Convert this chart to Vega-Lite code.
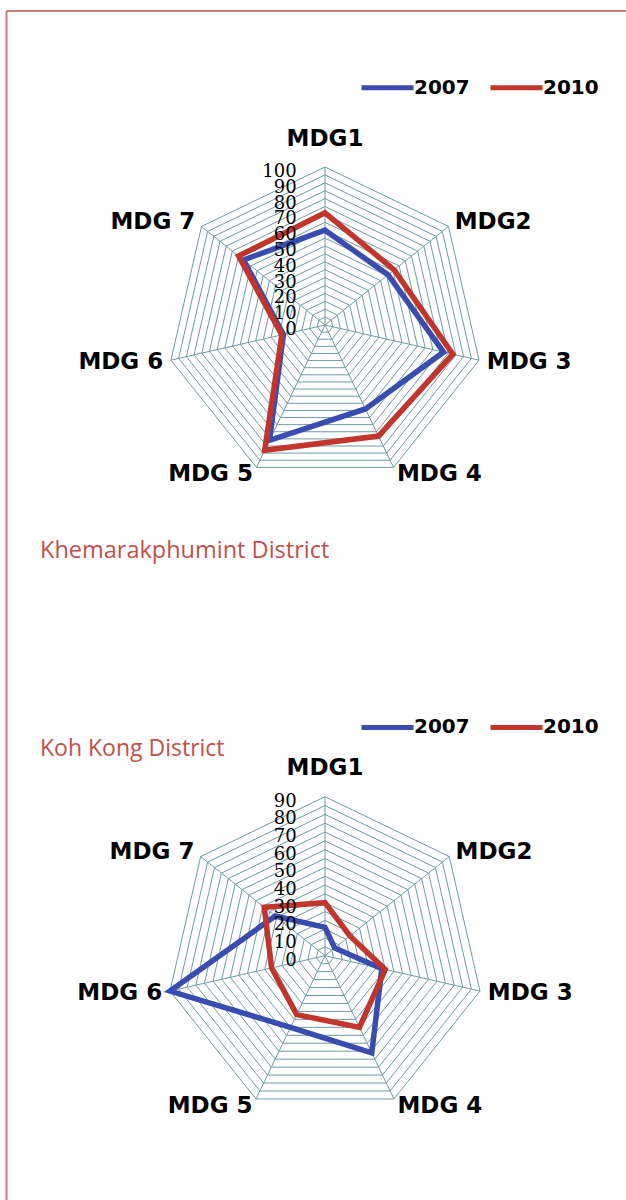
{
  "$schema": "https://vega.github.io/schema/vega-lite/v6.json",
  "autosize": {"type": "pad"},
  "padding": 0,
  "background": "white",
  "spacing": 0,
  "bounds": "flush",
  "config": {"view": {"stroke": null}},
  "resolve": {"scale": {"color": "independent"}, "legend": {"color": "independent"}},
  "datasets": {
    "axes": [
      {"mdg": "MDG1", "label": "MDG1"},
      {"mdg": "MDG2", "label": "MDG2"},
      {"mdg": "MDG3", "label": "MDG 3"},
      {"mdg": "MDG4", "label": "MDG 4"},
      {"mdg": "MDG5", "label": "MDG 5"},
      {"mdg": "MDG6", "label": "MDG 6"},
      {"mdg": "MDG7", "label": "MDG 7"}
    ],
    "khemarak": [
      {"mdg": "MDG1", "year": "2007", "value": 60},
      {"mdg": "MDG2", "year": "2007", "value": 51},
      {"mdg": "MDG3", "year": "2007", "value": 77},
      {"mdg": "MDG4", "year": "2007", "value": 59},
      {"mdg": "MDG5", "year": "2007", "value": 81},
      {"mdg": "MDG6", "year": "2007", "value": 27},
      {"mdg": "MDG7", "year": "2007", "value": 66},
      {"mdg": "MDG1", "year": "2010", "value": 71},
      {"mdg": "MDG2", "year": "2010", "value": 56},
      {"mdg": "MDG3", "year": "2010", "value": 83},
      {"mdg": "MDG4", "year": "2010", "value": 78},
      {"mdg": "MDG5", "year": "2010", "value": 88},
      {"mdg": "MDG6", "year": "2010", "value": 28},
      {"mdg": "MDG7", "year": "2010", "value": 70}
    ],
    "kohkong": [
      {"mdg": "MDG1", "year": "2007", "value": 16},
      {"mdg": "MDG2", "year": "2007", "value": 7},
      {"mdg": "MDG3", "year": "2007", "value": 33},
      {"mdg": "MDG4", "year": "2007", "value": 61},
      {"mdg": "MDG5", "year": "2007", "value": 45},
      {"mdg": "MDG6", "year": "2007", "value": 90},
      {"mdg": "MDG7", "year": "2007", "value": 36},
      {"mdg": "MDG1", "year": "2010", "value": 30},
      {"mdg": "MDG2", "year": "2010", "value": 18},
      {"mdg": "MDG3", "year": "2010", "value": 35},
      {"mdg": "MDG4", "year": "2010", "value": 45},
      {"mdg": "MDG5", "year": "2010", "value": 37},
      {"mdg": "MDG6", "year": "2010", "value": 31},
      {"mdg": "MDG7", "year": "2010", "value": 44}
    ],
    "gridTop": [
      {"level": 5, "k": [0,1,2,3,4,5,6]}, {"level": 10, "k": [0,1,2,3,4,5,6]},
      {"level": 15, "k": [0,1,2,3,4,5,6]}, {"level": 20, "k": [0,1,2,3,4,5,6]},
      {"level": 25, "k": [0,1,2,3,4,5,6]}, {"level": 30, "k": [0,1,2,3,4,5,6]},
      {"level": 35, "k": [0,1,2,3,4,5,6]}, {"level": 40, "k": [0,1,2,3,4,5,6]},
      {"level": 45, "k": [0,1,2,3,4,5,6]}, {"level": 50, "k": [0,1,2,3,4,5,6]},
      {"level": 55, "k": [0,1,2,3,4,5,6]}, {"level": 60, "k": [0,1,2,3,4,5,6]},
      {"level": 65, "k": [0,1,2,3,4,5,6]}, {"level": 70, "k": [0,1,2,3,4,5,6]},
      {"level": 75, "k": [0,1,2,3,4,5,6]}, {"level": 80, "k": [0,1,2,3,4,5,6]},
      {"level": 85, "k": [0,1,2,3,4,5,6]}, {"level": 90, "k": [0,1,2,3,4,5,6]},
      {"level": 95, "k": [0,1,2,3,4,5,6]}, {"level": 100, "k": [0,1,2,3,4,5,6]}
    ],
    "gridBottom": [
      {"level": 5, "k": [0,1,2,3,4,5,6]}, {"level": 10, "k": [0,1,2,3,4,5,6]},
      {"level": 15, "k": [0,1,2,3,4,5,6]}, {"level": 20, "k": [0,1,2,3,4,5,6]},
      {"level": 25, "k": [0,1,2,3,4,5,6]}, {"level": 30, "k": [0,1,2,3,4,5,6]},
      {"level": 35, "k": [0,1,2,3,4,5,6]}, {"level": 40, "k": [0,1,2,3,4,5,6]},
      {"level": 45, "k": [0,1,2,3,4,5,6]}, {"level": 50, "k": [0,1,2,3,4,5,6]},
      {"level": 55, "k": [0,1,2,3,4,5,6]}, {"level": 60, "k": [0,1,2,3,4,5,6]},
      {"level": 65, "k": [0,1,2,3,4,5,6]}, {"level": 70, "k": [0,1,2,3,4,5,6]},
      {"level": 75, "k": [0,1,2,3,4,5,6]}, {"level": 80, "k": [0,1,2,3,4,5,6]},
      {"level": 85, "k": [0,1,2,3,4,5,6]}, {"level": 90, "k": [0,1,2,3,4,5,6]}
    ],
    "ticksTop": [
      {"tick": 0}, {"tick": 10}, {"tick": 20}, {"tick": 30}, {"tick": 40}, {"tick": 50},
      {"tick": 60}, {"tick": 70}, {"tick": 80}, {"tick": 90}, {"tick": 100}
    ],
    "ticksBottom": [
      {"tick": 0}, {"tick": 10}, {"tick": 20}, {"tick": 30}, {"tick": 40}, {"tick": 50},
      {"tick": 60}, {"tick": 70}, {"tick": 80}, {"tick": 90}
    ]
  },
  "vconcat": [
    {
      "width": 626,
      "height": 600,
      "layer": [
        {
          "data": {"name": "gridTop"},
          "transform": [
            {"flatten": ["k"]},
            {"calculate": "datum.level/100*sin(2*PI*datum.k/7)", "as": "x"},
            {"calculate": "datum.level/100*cos(2*PI*datum.k/7)", "as": "y"}
          ],
          "mark": {"type": "line", "interpolate": "linear-closed", "color": "#6f9ba7", "strokeWidth": 1},
          "encoding": {
            "x": {"field": "x", "type": "quantitative", "scale": {"domain": [-2.056962, 1.905063], "nice": false, "zero": false}, "axis": null},
            "y": {"field": "y", "type": "quantitative", "scale": {"domain": [-1.740506, 2.056962], "nice": false, "zero": false}, "axis": null},
            "detail": {"field": "level", "type": "nominal"},
            "order": {"field": "k", "type": "quantitative"}
          }
        },
        {
          "data": {"values": [{"edge": "top"}]},
          "mark": {"type": "rule", "color": "#c47f78", "strokeWidth": 2},
          "encoding": {"x": {"datum": -2.015823}, "x2": {"datum": 1.905063}, "y": {"datum": 1.987342}}
        },
        {
          "data": {"values": [{"edge": "left"}]},
          "mark": {"type": "rule", "color": "#c47f78", "strokeWidth": 2},
          "encoding": {"x": {"datum": -2.015823}, "y": {"datum": 1.987342}, "y2": {"datum": -1.740506}}
        },
        {
          "data": {"name": "axes"},
          "transform": [
            {"calculate": "indexof(['MDG1','MDG2','MDG3','MDG4','MDG5','MDG6','MDG7'], datum.mdg)", "as": "k"},
            {"calculate": "sin(2*PI*datum.k/7)", "as": "x"},
            {"calculate": "cos(2*PI*datum.k/7)", "as": "y"}
          ],
          "mark": {"type": "rule", "color": "#6f9ba7", "strokeWidth": 1},
          "encoding": {
            "x": {"field": "x", "type": "quantitative"},
            "y": {"field": "y", "type": "quantitative"},
            "x2": {"datum": 0}, "y2": {"datum": 0}
          }
        },
        {
          "data": {"name": "khemarak"},
          "transform": [
            {"calculate": "indexof(['MDG1','MDG2','MDG3','MDG4','MDG5','MDG6','MDG7'], datum.mdg)", "as": "k"},
            {"calculate": "datum.value/100*sin(2*PI*datum.k/7)", "as": "x"},
            {"calculate": "datum.value/100*cos(2*PI*datum.k/7)", "as": "y"}
          ],
          "mark": {"type": "line", "interpolate": "linear-closed", "strokeWidth": 5.5},
          "encoding": {
            "x": {"field": "x", "type": "quantitative"},
            "y": {"field": "y", "type": "quantitative"},
            "order": {"field": "k", "type": "quantitative"},
            "color": {
              "field": "year", "type": "nominal",
              "scale": {"domain": ["2007", "2010"], "range": ["#3b4cb0", "#c1352d"]},
              "legend": {"orient": "none", "legendX": 359, "legendY": 59, "direction": "horizontal", "title": null, "symbolType": "stroke", "symbolSize": 2704, "symbolStrokeWidth": 5, "labelFont": "DejaVu Sans", "labelFontWeight": "bold", "labelFontSize": 20, "labelColor": "black", "labelOffset": -2, "columnPadding": 10, "padding": 0}
            }
          }
        },
        {
          "data": {"name": "axes"},
          "transform": [
            {"calculate": "indexof(['MDG1','MDG2','MDG3','MDG4','MDG5','MDG6','MDG7'], datum.mdg)", "as": "k"},
            {"filter": "datum.k == 0"},
            {"calculate": "1.18*sin(2*PI*datum.k/7)", "as": "x"},
            {"calculate": "1.18*cos(2*PI*datum.k/7)", "as": "y"}
          ],
          "mark": {"type": "text", "font": "DejaVu Sans", "fontWeight": "bold", "fontSize": 23, "color": "black", "baseline": "middle", "align": "center"},
          "encoding": {"x": {"field": "x", "type": "quantitative"}, "y": {"field": "y", "type": "quantitative"}, "text": {"field": "label", "type": "nominal"}}
        },
        {
          "data": {"name": "axes"},
          "transform": [
            {"calculate": "indexof(['MDG1','MDG2','MDG3','MDG4','MDG5','MDG6','MDG7'], datum.mdg)", "as": "k"},
            {"filter": "datum.k >= 1 && datum.k <= 3"},
            {"calculate": "1.05*sin(2*PI*datum.k/7)", "as": "x"},
            {"calculate": "1.05*cos(2*PI*datum.k/7)", "as": "y"}
          ],
          "mark": {"type": "text", "font": "DejaVu Sans", "fontWeight": "bold", "fontSize": 23, "color": "black", "baseline": "middle", "align": "left"},
          "encoding": {"x": {"field": "x", "type": "quantitative"}, "y": {"field": "y", "type": "quantitative"}, "text": {"field": "label", "type": "nominal"}}
        },
        {
          "data": {"name": "axes"},
          "transform": [
            {"calculate": "indexof(['MDG1','MDG2','MDG3','MDG4','MDG5','MDG6','MDG7'], datum.mdg)", "as": "k"},
            {"filter": "datum.k >= 4"},
            {"calculate": "1.05*sin(2*PI*datum.k/7)", "as": "x"},
            {"calculate": "1.05*cos(2*PI*datum.k/7)", "as": "y"}
          ],
          "mark": {"type": "text", "font": "DejaVu Sans", "fontWeight": "bold", "fontSize": 23, "color": "black", "baseline": "middle", "align": "right"},
          "encoding": {"x": {"field": "x", "type": "quantitative"}, "y": {"field": "y", "type": "quantitative"}, "text": {"field": "label", "type": "nominal"}}
        },
        {
          "data": {"name": "ticksTop"},
          "transform": [{"calculate": "datum.tick/100", "as": "y"}],
          "mark": {"type": "text", "font": "DejaVu Serif", "fontSize": 18, "color": "black", "align": "right", "baseline": "middle", "dy": 5},
          "encoding": {"x": {"datum": -0.179}, "y": {"field": "y", "type": "quantitative"}, "text": {"field": "tick", "type": "quantitative"}}
        },
        {
          "data": {"values": [{"name": "Khemarakphumint  District"}]},
          "mark": {"type": "text", "font": "Open Sans", "fontSize": 23.5, "color": "#c0504d", "align": "left", "baseline": "middle"},
          "encoding": {"x": {"datum": -1.8038}, "y": {"datum": -1.4304}, "text": {"field": "name", "type": "nominal"}}
        }
      ]
    },
    {
      "width": 626,
      "height": 600,
      "layer": [
        {
          "data": {"name": "gridBottom"},
          "transform": [
            {"flatten": ["k"]},
            {"calculate": "datum.level/90*sin(2*PI*datum.k/7)", "as": "x"},
            {"calculate": "datum.level/90*cos(2*PI*datum.k/7)", "as": "y"}
          ],
          "mark": {"type": "line", "interpolate": "linear-closed", "color": "#6f9ba7", "strokeWidth": 1},
          "encoding": {
            "x": {"field": "x", "type": "quantitative", "scale": {"domain": [-2.044025, 1.893082], "nice": false, "zero": false}, "axis": null},
            "y": {"field": "y", "type": "quantitative", "scale": {"domain": [-1.536478, 2.237107], "nice": false, "zero": false}, "axis": null},
            "detail": {"field": "level", "type": "nominal"},
            "order": {"field": "k", "type": "quantitative"}
          }
        },
        {
          "data": {"values": [{"edge": "left"}]},
          "mark": {"type": "rule", "color": "#c47f78", "strokeWidth": 2},
          "encoding": {"x": {"datum": -2.003145}, "y": {"datum": 2.237107}, "y2": {"datum": -1.536478}}
        },
        {
          "data": {"name": "axes"},
          "transform": [
            {"calculate": "indexof(['MDG1','MDG2','MDG3','MDG4','MDG5','MDG6','MDG7'], datum.mdg)", "as": "k"},
            {"calculate": "sin(2*PI*datum.k/7)", "as": "x"},
            {"calculate": "cos(2*PI*datum.k/7)", "as": "y"}
          ],
          "mark": {"type": "rule", "color": "#6f9ba7", "strokeWidth": 1},
          "encoding": {
            "x": {"field": "x", "type": "quantitative"},
            "y": {"field": "y", "type": "quantitative"},
            "x2": {"datum": 0}, "y2": {"datum": 0}
          }
        },
        {
          "data": {"name": "kohkong"},
          "transform": [
            {"calculate": "indexof(['MDG1','MDG2','MDG3','MDG4','MDG5','MDG6','MDG7'], datum.mdg)", "as": "k"},
            {"calculate": "datum.value/90*sin(2*PI*datum.k/7)", "as": "x"},
            {"calculate": "datum.value/90*cos(2*PI*datum.k/7)", "as": "y"}
          ],
          "mark": {"type": "line", "interpolate": "linear-closed", "strokeWidth": 5.5},
          "encoding": {
            "x": {"field": "x", "type": "quantitative"},
            "y": {"field": "y", "type": "quantitative"},
            "order": {"field": "k", "type": "quantitative"},
            "color": {
              "field": "year", "type": "nominal",
              "scale": {"domain": ["2007", "2010"], "range": ["#3b4cb0", "#c1352d"]},
              "legend": {"orient": "none", "legendX": 359, "legendY": 98.7, "direction": "horizontal", "title": null, "symbolType": "stroke", "symbolSize": 2704, "symbolStrokeWidth": 5, "labelFont": "DejaVu Sans", "labelFontWeight": "bold", "labelFontSize": 20, "labelColor": "black", "labelOffset": -2, "columnPadding": 10, "padding": 0}
            }
          }
        },
        {
          "data": {"name": "axes"},
          "transform": [
            {"calculate": "indexof(['MDG1','MDG2','MDG3','MDG4','MDG5','MDG6','MDG7'], datum.mdg)", "as": "k"},
            {"filter": "datum.k == 0"},
            {"calculate": "1.18*sin(2*PI*datum.k/7)", "as": "x"},
            {"calculate": "1.18*cos(2*PI*datum.k/7)", "as": "y"}
          ],
          "mark": {"type": "text", "font": "DejaVu Sans", "fontWeight": "bold", "fontSize": 23, "color": "black", "baseline": "middle", "align": "center"},
          "encoding": {"x": {"field": "x", "type": "quantitative"}, "y": {"field": "y", "type": "quantitative"}, "text": {"field": "label", "type": "nominal"}}
        },
        {
          "data": {"name": "axes"},
          "transform": [
            {"calculate": "indexof(['MDG1','MDG2','MDG3','MDG4','MDG5','MDG6','MDG7'], datum.mdg)", "as": "k"},
            {"filter": "datum.k >= 1 && datum.k <= 3"},
            {"calculate": "1.05*sin(2*PI*datum.k/7)", "as": "x"},
            {"calculate": "1.05*cos(2*PI*datum.k/7)", "as": "y"}
          ],
          "mark": {"type": "text", "font": "DejaVu Sans", "fontWeight": "bold", "fontSize": 23, "color": "black", "baseline": "middle", "align": "left"},
          "encoding": {"x": {"field": "x", "type": "quantitative"}, "y": {"field": "y", "type": "quantitative"}, "text": {"field": "label", "type": "nominal"}}
        },
        {
          "data": {"name": "axes"},
          "transform": [
            {"calculate": "indexof(['MDG1','MDG2','MDG3','MDG4','MDG5','MDG6','MDG7'], datum.mdg)", "as": "k"},
            {"filter": "datum.k >= 4"},
            {"calculate": "1.05*sin(2*PI*datum.k/7)", "as": "x"},
            {"calculate": "1.05*cos(2*PI*datum.k/7)", "as": "y"}
          ],
          "mark": {"type": "text", "font": "DejaVu Sans", "fontWeight": "bold", "fontSize": 23, "color": "black", "baseline": "middle", "align": "right"},
          "encoding": {"x": {"field": "x", "type": "quantitative"}, "y": {"field": "y", "type": "quantitative"}, "text": {"field": "label", "type": "nominal"}}
        },
        {
          "data": {"name": "ticksBottom"},
          "transform": [{"calculate": "datum.tick/90", "as": "y"}],
          "mark": {"type": "text", "font": "DejaVu Serif", "fontSize": 18, "color": "black", "align": "right", "baseline": "middle", "dy": 5},
          "encoding": {"x": {"datum": -0.178}, "y": {"field": "y", "type": "quantitative"}, "text": {"field": "tick", "type": "quantitative"}}
        },
        {
          "data": {"values": [{"name": "Koh Kong District"}]},
          "mark": {"type": "text", "font": "Open Sans", "fontSize": 23, "color": "#c0504d", "align": "left", "baseline": "middle"},
          "encoding": {"x": {"datum": -1.7925}, "y": {"datum": 1.3}, "text": {"field": "name", "type": "nominal"}}
        }
      ]
    }
  ]
}
